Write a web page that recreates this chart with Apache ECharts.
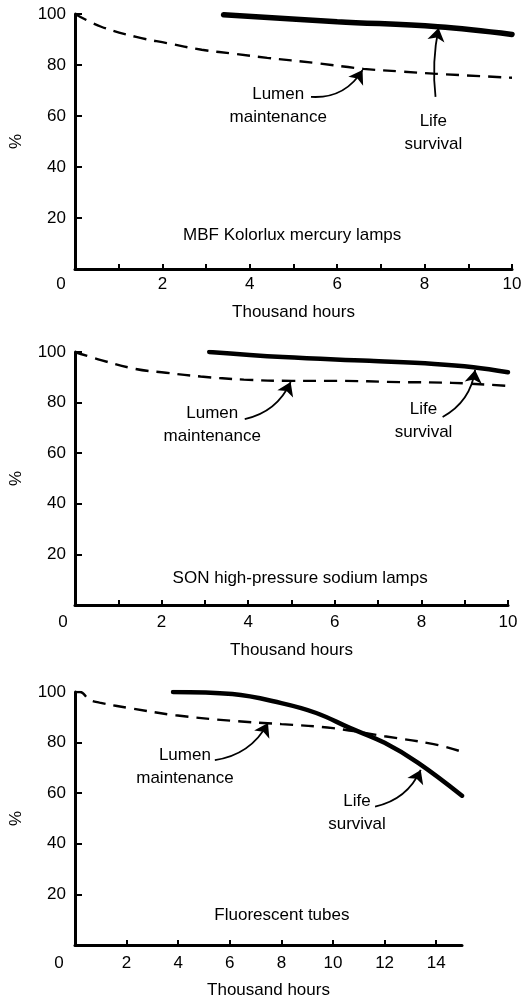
<!DOCTYPE html>
<html>
<head>
<meta charset="utf-8">
<script src="https://cdn.jsdelivr.net/npm/echarts@6/dist/echarts.min.js"></script>
<style>
  html, body { margin: 0; padding: 0; background: #fff; }
  #chart { width: 528px; height: 1003px; }
</style>
</head>
<body>
<div id="chart"></div>
<script>
// MBF Kolorlux mercury lamps
const mbfLumenX = [0, 0.6, 1.4, 2.1, 2.9, 3.7, 4.4, 5.5, 6.6, 7.5, 8.2, 10];
const mbfLumenY = [100, 95, 91, 88.6, 86, 84.3, 82.8, 80.8, 78.5, 77.4, 76.6, 75];
const mbfLifeX = [3.4, 6, 8.3, 10];
const mbfLifeY = [99.7, 97, 95, 92];

// SON high-pressure sodium lamps
const sonLumenX = [0, 0.6, 1.4, 2.1, 2.9, 3.9, 5, 6, 7.5, 8.7, 10];
const sonLumenY = [100, 96.8, 93.3, 91.8, 90.3, 89.1, 88.6, 88.6, 88.1, 87.8, 86.6];
const sonLifeX = [3.1, 4.8, 6.8, 8.3, 9.2, 10];
const sonLifeY = [100, 98, 96.5, 95.3, 94, 92];

// Fluorescent tubes
const fluLumenX = [0, 0.2, 0.55, 0.95, 2.2, 3.9, 6.1, 8, 10, 12, 13.9, 15];
const fluLumenY = [100, 100, 97, 95.8, 93.5, 90.8, 88.6, 87.3, 85.7, 82.5, 79.4, 76.4];
const fluLifeX = [3.8, 6.1, 8, 9.35, 10.65, 12, 13.3, 15];
const fluLifeY = [100, 99.2, 95.6, 91.7, 85.8, 79.9, 72, 59];

const yTicks = [20, 40, 60, 80, 100];
const tickValsA = [1, 2, 3, 4, 5, 6, 7, 8, 9, 10];
const labelValsA = [0, 2, 4, 6, 8, 10];
const tickValsB = [2, 4, 6, 8, 10, 12, 14];
const labelValsB = [0, 2, 4, 6, 8, 10, 12, 14];

const titles = ["MBF Kolorlux mercury lamps", "SON high-pressure sodium lamps", "Fluorescent tubes"];

const pairs = (xs, ys) => xs.map((x, i) => [x, ys[i]]);
const font = "Liberation Sans";
const ink = "#000";
const fs = 17;

const panels = [
  {
    grid: { left: 73, right: 16, top: 14, height: 255 },
    max: 10, ticks: tickValsA, labels: labelValsA, labelMargin: 7, zeroPad: 28, nameGap: 35,
    lumen: pairs(mbfLumenX, mbfLumenY), life: pairs(mbfLifeX, mbfLifeY), lifeWidth: 5.5,
    lumenArrow: [[5.4, 67.5], [6.58, 78]], lumenCurve: -0.3,
    lifeArrow: [[8.25, 67.5], [8.32, 94.5]], lifeCurve: 0.08,
    lumenText: [4.65, 64], lifeText: [8.2, 53.3], titleAt: [4.97, 13.3]
  },
  {
    grid: { left: 72, right: 20, top: 352, height: 253 },
    max: 10, ticks: tickValsA, labels: labelValsA, labelMargin: 9, zeroPad: 24, nameGap: 37,
    lumen: pairs(sonLumenX, sonLumenY), life: pairs(sonLifeX, sonLifeY), lifeWidth: 4.5,
    lumenArrow: [[3.92, 73.5], [4.98, 88.1]], lumenCurve: -0.25,
    lifeArrow: [[8.49, 74.3], [9.24, 92.9]], lifeCurve: -0.25,
    lumenText: [3.17, 71.1], lifeText: [8.05, 72.9], titleAt: [5.2, 10.7]
  },
  {
    grid: { left: 75, right: 66, top: 692, height: 253 },
    max: 15, ticks: tickValsB, labels: labelValsB, labelMargin: 10, zeroPad: 32, nameGap: 37,
    lumen: pairs(fluLumenX, fluLumenY), life: pairs(fluLifeX, fluLifeY), lifeWidth: 4.5,
    lumenArrow: [[5.42, 73.1], [7.48, 87.7]], lumenCurve: -0.25,
    lifeArrow: [[11.63, 54.7], [13.4, 69.2]], lifeCurve: -0.25,
    lumenText: [4.26, 70.4], lifeText: [10.93, 52.4], titleAt: [8.02, 11.6]
  }
];

const textStyle = { color: ink, fontFamily: font, fontSize: fs };

const chart = echarts.init(document.getElementById("chart"), null, { renderer: "canvas" });

const option = {
  animation: false,
  backgroundColor: "#fff",
  textStyle: textStyle,
  grid: panels.map((p) => p.grid),
  xAxis: panels.map((p, i) => ({
    type: "value",
    gridIndex: i,
    min: 0,
    max: p.max,
    name: "Thousand hours",
    nameLocation: "middle",
    nameGap: p.nameGap,
    nameTextStyle: textStyle,
    splitLine: { show: false },
    axisLine: { show: true, lineStyle: { color: ink, width: 3 } },
    axisTick: { show: true, inside: true, length: 5, customValues: p.ticks, lineStyle: { color: ink, width: 2 } },
    axisLabel: {
      customValues: p.labels,
      margin: p.labelMargin,
      color: ink, fontFamily: font, fontSize: fs,
      formatter: (v) => (v === 0 ? "{z|0}" : String(v)),
      rich: { z: { color: ink, fontFamily: font, fontSize: fs, padding: [0, p.zeroPad, 0, 0] } }
    }
  })),
  yAxis: panels.map((p, i) => ({
    type: "value",
    gridIndex: i,
    min: 0,
    max: 100,
    interval: 20,
    name: "%",
    nameLocation: "middle",
    nameRotate: 90,
    nameGap: 50,
    nameTextStyle: textStyle,
    splitLine: { show: false },
    axisLine: { show: true, lineStyle: { color: ink, width: 3 } },
    axisTick: { show: true, inside: true, length: 7, customValues: yTicks, lineStyle: { color: ink, width: 2 } },
    axisLabel: { customValues: yTicks, margin: 9, color: ink, fontFamily: font, fontSize: fs }
  })),
  series: []
};

panels.forEach((p, i) => {
  option.series.push({
    name: "Lumen maintenance",
    type: "line",
    xAxisIndex: i,
    yAxisIndex: i,
    data: p.lumen,
    smooth: 0.4,
    showSymbol: false,
    symbol: "none",
    z: 2,
    lineStyle: { color: ink, width: 2.4, type: [13, 8] },
    markPoint: {
      symbol: "circle",
      symbolSize: 0,
      silent: true,
      label: { show: true, position: "inside", color: ink, fontFamily: font, fontSize: fs, lineHeight: 23 },
      data: [
        { coord: p.lumenText, label: { formatter: "Lumen\nmaintenance" } },
        { coord: p.lifeText, label: { formatter: "Life\nsurvival" } },
        { coord: p.titleAt, label: { formatter: titles[i] } }
      ]
    }
  });
  option.series.push({
    name: "Life survival",
    type: "line",
    xAxisIndex: i,
    yAxisIndex: i,
    data: p.life,
    smooth: 0.4,
    showSymbol: false,
    symbol: "none",
    z: 3,
    lineStyle: { color: ink, width: p.lifeWidth, cap: "round" }
  });
  // annotation arrows
  [[p.lumenArrow, p.lumenCurve], [p.lifeArrow, p.lifeCurve]].forEach(([pts, curve]) => {
    option.series.push({
      type: "lines",
      coordinateSystem: "cartesian2d",
      xAxisIndex: i,
      yAxisIndex: i,
      silent: true,
      z: 4,
      symbol: ["none", "arrow"],
      symbolSize: 13,
      itemStyle: { color: ink },
      lineStyle: { color: ink, width: 1.8, opacity: 1, curveness: curve },
      data: [{ coords: pts }]
    });
  });
});

chart.setOption(option);
</script>
</body>
</html>
